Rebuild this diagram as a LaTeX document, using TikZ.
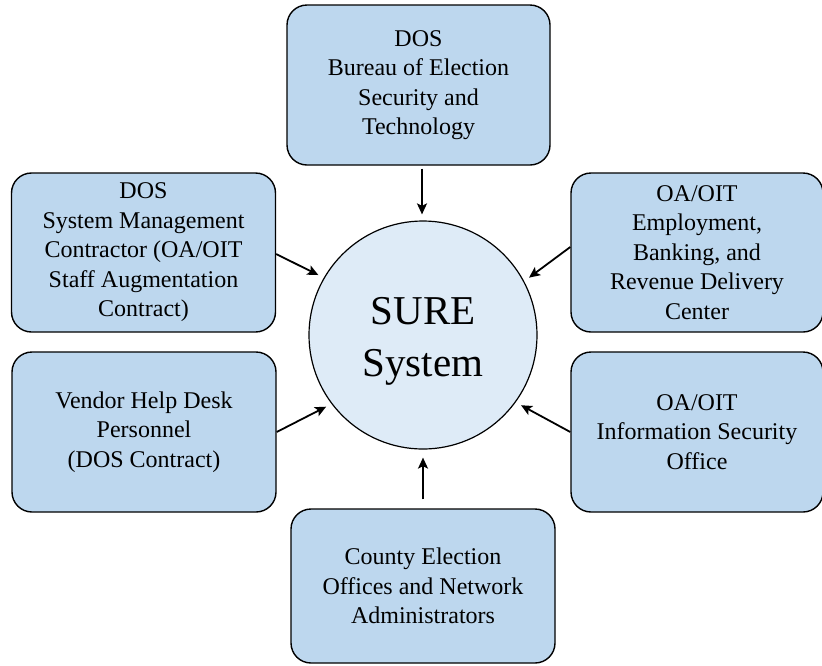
\documentclass[tikz,border=0pt]{standalone}
\usepackage{fontspec}
\setmainfont{Liberation Serif}
\usetikzlibrary{arrows.meta}
\definecolor{boxblue}{HTML}{BDD7EE}
\definecolor{circblue}{HTML}{DEEBF7}
\begin{document}
\begin{tikzpicture}[x=1pt,y=-1pt,
  box/.style={draw=black, line width=1.4pt, fill=boxblue, rounded corners=20pt,
    align=center, inner sep=0pt, font=\fontsize{24}{29.5}\selectfont},
  hub/.style={draw=black, line width=1.2pt, fill=circblue, circle, inner sep=0pt,
    minimum size=228pt},
  hubtext/.style={align=center, inner sep=0pt, font=\fontsize{41}{52}\selectfont},
  arr/.style={line width=1.8pt, -{Stealth[length=11pt,width=10pt,inset=2.5pt]}}]
\useasboundingbox (0,0) rectangle (822,665);
\node[hub] (sure) at (423,335) {};
\node[hubtext] (suretext) at ([yshift=-6pt]sure.center) {SURE\\System};
\node[box, minimum width=263pt, minimum height=160pt] (top) at (418.5,85)
  {DOS\\Bureau of Election\\Security and\\Technology};
\node[box, minimum width=264pt, minimum height=159pt] (lt) at (143.5,252.5)
  {DOS\\System Management\\Contractor (OA/OIT\\Staff Augmentation\\Contract)};
\node[box, minimum width=252pt, minimum height=159pt] (rt) at (697,252.5)
  {OA/OIT\\Employment,\\Banking, and\\Revenue Delivery\\Center};
\node[box, minimum width=264pt, minimum height=160pt] (lb) at (144,432)
  {Vendor Help Desk\\Personnel\\(DOS Contract)};
\node[box, minimum width=252pt, minimum height=160pt] (rb) at (697,432)
  {OA/OIT\\Information Security\\Office};
\node[box, minimum width=264pt, minimum height=154pt] (bot) at (423,586)
  {County Election\\Offices and Network\\Administrators};
\draw[arr, shorten <=3pt, shorten >=6pt] ([xshift=3.5pt]top.south) -- ([xshift=3.5pt]top.south |- sure.north);
\draw[arr, shorten >=6pt] ([yshift=-1.5pt]lt.east) -- (sure.150);
\draw[arr, shorten >=6pt] ([yshift=5.5pt]rt.west) -- (sure.28);
\draw[arr, shorten >=6pt] (lb.east) -- (sure.217);
\draw[arr, shorten >=6pt] (rb.west) -- (sure.-36);
\draw[arr, shorten <=9pt, shorten >=8pt] (bot.north) -- (sure.south);
\end{tikzpicture}
\end{document}
